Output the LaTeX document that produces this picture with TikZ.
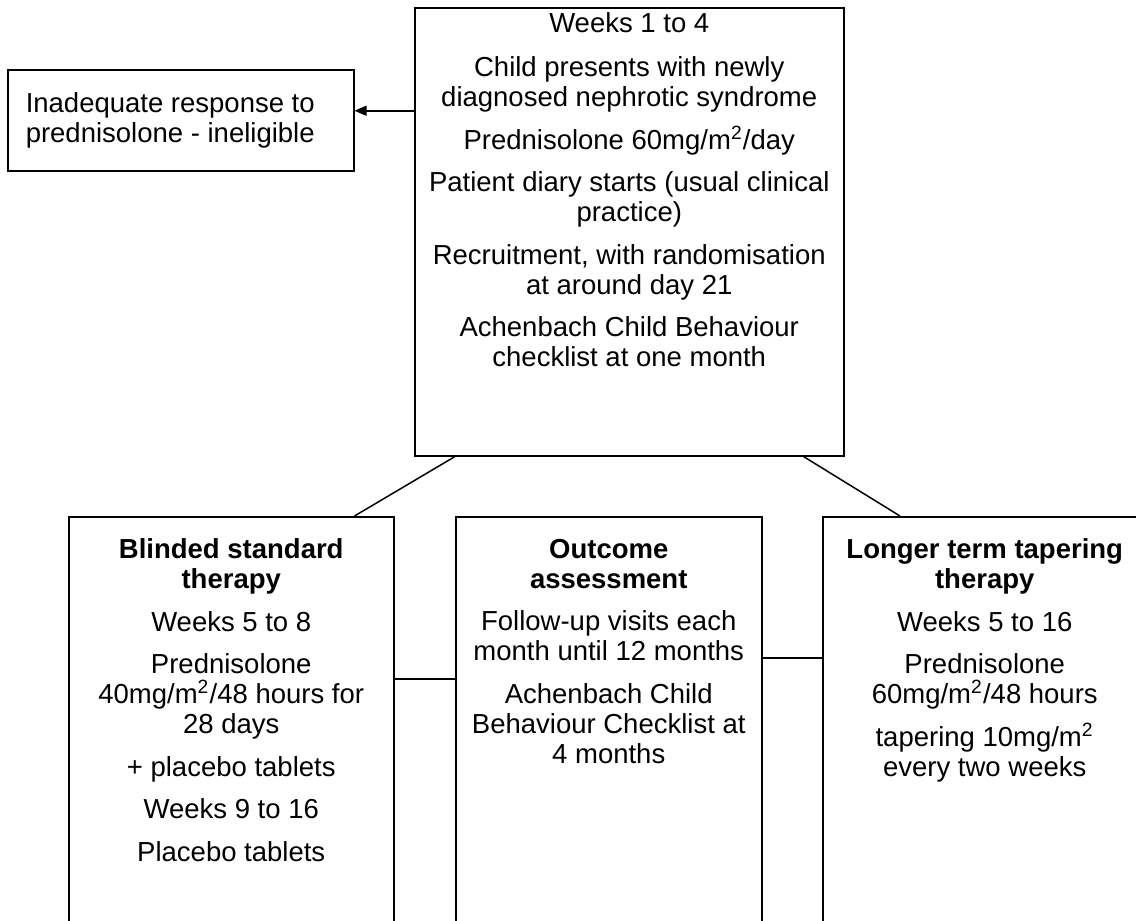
\documentclass[tikz,border=0pt]{standalone}
\usepackage{fontspec}
\setmainfont{Liberation Sans}
\usetikzlibrary{arrows.meta}
% fixed size box body, text from the top
\newcommand{\boxbody}[4]{\parbox[t][#2][t]{#1}{\centering\vspace*{#3}#4}}
\begin{document}
\begin{tikzpicture}[
  x=0.4pt, y=-0.4pt,
  stage/.style={draw, line width=0.6pt, inner sep=0pt, anchor=north west, font=\fontsize{11}{12}\selectfont},
  excl/.style={draw, line width=0.6pt, anchor=north west, align=flush left, text width=124pt, inner xsep=7.2pt, inner ysep=0pt, minimum height=40.4pt, font=\fontsize{11}{12}\selectfont},
  arrow/.style={-{Triangle[length=4.8pt, width=4pt]}, line width=0.6pt},
  link/.style={line width=0.6pt}
]
  \clip (0,0) rectangle (1136,921);

  % Weeks 1 to 4 (top)
  \node[stage] (start) at (414,7) {\boxbody{171.6pt}{179.2pt}{2.1pt}{Weeks 1 to 4\\[5.5pt]
    Child presents with newly\\diagnosed nephrotic syndrome\\[5pt]
    Prednisolone 60mg/m\textsuperscript{2}/day\\[5pt]
    Patient diary starts (usual clinical\\practice)\\[5pt]
    Recruitment, with randomisation\\at around day 21\\[5pt]
    Achenbach Child Behaviour\\checklist at one month}};
  \node[excl] (excl) at (7,69) {Inadequate response to\\prednisolone - ineligible};

  % Randomised arms and outcome (bottom)
  \node[stage] (blind) at (68,516) {\boxbody{130pt}{169.6pt}{8.9pt}{\textbf{Blinded standard}\\\textbf{therapy}\\[5pt]
    Weeks 5 to 8\\[5pt]
    Prednisolone\\40mg/m\textsuperscript{2}/48 hours for\\28 days\\[5pt]
    + placebo tablets\\[5pt]
    Weeks 9 to 16\\[5pt]
    Placebo tablets}};
  \node[stage] (outcome) at (455,516) {\boxbody{122.4pt}{169.6pt}{8.9pt}{\textbf{Outcome}\\\textbf{assessment}\\[5pt]
    Follow-up visits each\\month until 12 months\\[5pt]
    Achenbach Child\\Behaviour Checklist at\\4 months}};
  \node[stage] (taper) at (822,516) {\boxbody{129.6pt}{169.6pt}{8.9pt}{\textbf{Longer term tapering}\\\textbf{therapy}\\[5pt]
    Weeks 5 to 16\\[5pt]
    Prednisolone\\60mg/m\textsuperscript{2}/48 hours\\[5pt]
    tapering 10mg/m\textsuperscript{2}\\every two weeks}};

  % Connectors
  \draw[arrow] ([yshift=3.8pt]start.west |- excl.east) -- ([yshift=3.8pt]excl.east);
  \draw[link] ([xshift=16.4pt]start.south west) -- ([xshift=-16pt]blind.north east);
  \draw[link] ([xshift=-16.4pt]start.south east) -- ([xshift=31.2pt]taper.north west);
  \draw[link] ([yshift=-65.2pt]blind.north east) -- ([yshift=-65.2pt]outcome.north west);
  \draw[link] ([yshift=-56.8pt]outcome.north east) -- ([yshift=-56.8pt]taper.north west);
\end{tikzpicture}
\end{document}
